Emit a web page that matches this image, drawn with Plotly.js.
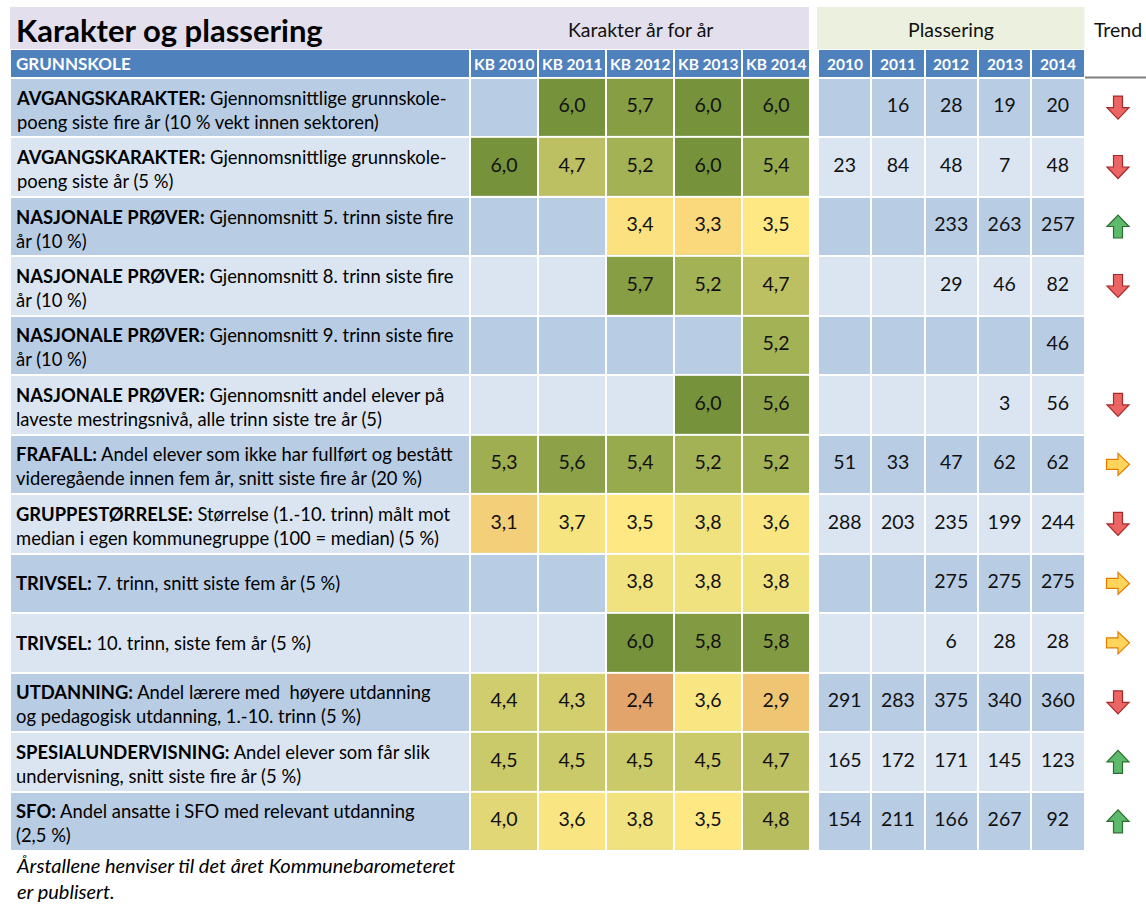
<!DOCTYPE html>
<html>
<head>
<meta charset="utf-8">
<script src="https://cdn.plot.ly/plotly-3.0.1.min.js"></script>
<style>html,body{margin:0;padding:0;background:#fff;}#chart{width:1146px;height:919px;}</style>
</head>
<body>
<div id="chart"></div>
<script>
// ---------------- DATA ----------------
const chartTitle = 'Karakter og plassering';
const sectionGrades = 'Karakter år for år';
const sectionPlaces = 'Plassering';
const sectionTrend = 'Trend';
const groupLabel = 'GRUNNSKOLE';
const gradeYears = ['KB 2010', 'KB 2011', 'KB 2012', 'KB 2013', 'KB 2014'];
const placeYears = ['2010', '2011', '2012', '2013', '2014'];

const labelHeads = ['AVGANGSKARAKTER:', 'AVGANGSKARAKTER:', 'NASJONALE PRØVER:', 'NASJONALE PRØVER:',
  'NASJONALE PRØVER:', 'NASJONALE PRØVER:', 'FRAFALL:', 'GRUPPESTØRRELSE:', 'TRIVSEL:', 'TRIVSEL:',
  'UTDANNING:', 'SPESIALUNDERVISNING:', 'SFO:'];
const labelTexts = [
  ' Gjennomsnittlige grunnskole-<br>poeng siste fire år (10 % vekt innen sektoren)',
  ' Gjennomsnittlige grunnskole-<br>poeng siste år (5 %)',
  ' Gjennomsnitt 5. trinn siste fire<br>år (10 %)',
  ' Gjennomsnitt 8. trinn siste fire<br>år (10 %)',
  ' Gjennomsnitt 9. trinn siste fire<br>år (10 %)',
  ' Gjennomsnitt andel elever på<br>laveste mestringsnivå, alle trinn siste tre år (5)',
  ' Andel elever som ikke har fullført og bestått<br>videregående innen fem år, snitt siste fire år (20 %)',
  ' Størrelse (1.-10. trinn) målt mot<br>median i egen kommunegruppe (100 = median) (5 %)',
  ' 7. trinn, snitt siste fem år (5 %)',
  ' 10. trinn, siste fem år (5 %)',
  ' Andel lærere med  høyere utdanning<br>og pedagogisk utdanning, 1.-10. trinn (5 %)',
  ' Andel elever som får slik<br>undervisning, snitt siste fire år (5 %)',
  ' Andel ansatte i SFO med relevant utdanning<br>(2,5 %)'
];

const grades = [
  [null, 6.0, 5.7, 6.0, 6.0],
  [6.0, 4.7, 5.2, 6.0, 5.4],
  [null, null, 3.4, 3.3, 3.5],
  [null, null, 5.7, 5.2, 4.7],
  [null, null, null, null, 5.2],
  [null, null, null, 6.0, 5.6],
  [5.3, 5.6, 5.4, 5.2, 5.2],
  [3.1, 3.7, 3.5, 3.8, 3.6],
  [null, null, 3.8, 3.8, 3.8],
  [null, null, 6.0, 5.8, 5.8],
  [4.4, 4.3, 2.4, 3.6, 2.9],
  [4.5, 4.5, 4.5, 4.5, 4.7],
  [4.0, 3.6, 3.8, 3.5, 4.8]
];

const placements = [
  [null, 16, 28, 19, 20],
  [23, 84, 48, 7, 48],
  [null, null, 233, 263, 257],
  [null, null, 29, 46, 82],
  [null, null, null, null, 46],
  [null, null, null, 3, 56],
  [51, 33, 47, 62, 62],
  [288, 203, 235, 199, 244],
  [null, null, 275, 275, 275],
  [null, null, 6, 28, 28],
  [291, 283, 375, 340, 360],
  [165, 172, 171, 145, 123],
  [154, 211, 166, 267, 92]
];

const trends = ['down', 'down', 'up', 'down', '', 'down', 'right', 'down', 'right', 'right', 'down', 'up', 'up'];

const footnote = 'Årstallene henviser til det året Kommunebarometeret<br>er publisert.';

// ---------------- LAYOUT GEOMETRY ----------------
const FONT = 'Lato, "Open Sans", sans-serif';
const W = 1146, H = 919;
const labelEdges = [10, 470];
const gradeEdges = [470, 538, 606, 674, 742, 810];
const placeEdges = [818, 871.3, 924.6, 977.9, 1031.2, 1084.5];
const trendX = 1118;
const headerEdges = [49, 77.8];
const rowTop = 77.8, rowPitch = 59.48;
const nRows = labelHeads.length;
const rowEdges = [];
for (let i = 0; i <= nRows; i++) rowEdges.push(rowTop + i * rowPitch);
const rowCenters = rowEdges.slice(0, -1).map((e, i) => (e + rowEdges[i + 1]) / 2);
const mid = arr => arr.slice(0, -1).map((e, i) => (e + arr[i + 1]) / 2);
const gradeCenters = mid(gradeEdges);
const placeCenters = mid(placeEdges);

// background grid (header row + alternating rows), with a transparent gap column
const bgX = [labelEdges[0]].concat(gradeEdges.slice(0)).concat(placeEdges);
const nBgCols = bgX.length - 1;
const gapCol = gradeEdges.length; // index of column 810-818
const bgY = [headerEdges[0]].concat(rowEdges);
const bgZ = [];
for (let r = 0; r <= nRows; r++) {
  const row = [];
  for (let c = 0; c < nBgCols; c++) {
    if (c === gapCol) row.push(null);
    else if (r === 0) row.push(2);
    else row.push((r - 1) % 2 === 0 ? 0 : 1);
  }
  bgZ.push(row);
}

const gradeColorscale = (function () {
  const stops = [
    [2.4, '#E3A46B'], [2.9, '#EFC574'], [3.1, '#F4CF79'], [3.3, '#F9D97B'],
    [3.5, '#FDE884'], [3.6, '#F9E682'], [3.8, '#F0E27E'], [4.0, '#E1D777'],
    [4.5, '#CACA6A'], [4.7, '#BDC062'], [5.2, '#A3B254'], [5.6, '#8DA248'],
    [6.0, '#76933C']
  ];
  return stops.map(s => [(s[0] - 2.4) / 3.6, s[1]]);
})();

const fmtGrade = v => v.toFixed(1).replace('.', ',');

// ---------------- TRACES ----------------
const traces = [];
traces.push({
  type: 'heatmap', x: bgX, y: bgY, z: bgZ, zmin: 0, zmax: 2,
  colorscale: [[0, '#B8CCE4'], [0.5, '#DBE5F1'], [1, '#4F81BD']],
  showscale: false, xgap: 2, ygap: 2, hoverinfo: 'skip'
});
traces.push({
  type: 'heatmap', x: gradeEdges, y: rowEdges, z: grades, zmin: 2.4, zmax: 6.0,
  colorscale: gradeColorscale, showscale: false, xgap: 2, ygap: 2, hoverinfo: 'skip'
});

// value texts
const gx = [], gy = [], gt = [];
grades.forEach((row, r) => row.forEach((v, c) => {
  if (v !== null) { gx.push(gradeCenters[c]); gy.push(rowCenters[r]); gt.push(fmtGrade(v)); }
}));
traces.push({
  type: 'scatter', mode: 'text', x: gx, y: gy, text: gt, hoverinfo: 'skip',
  textfont: { family: FONT, size: 19.5, color: '#111' }, textposition: 'middle center'
});
const px = [], py = [], pt = [];
placements.forEach((row, r) => row.forEach((v, c) => {
  if (v !== null) { px.push(placeCenters[c]); py.push(rowCenters[r]); pt.push(String(v)); }
}));
traces.push({
  type: 'scatter', mode: 'text', x: px, y: py, text: pt, hoverinfo: 'skip',
  textfont: { family: FONT, size: 19.5, color: '#111' }, textposition: 'middle center'
});

// ---------------- ANNOTATIONS ----------------
const annotations = [];
annotations.push({ x: 14, y: 30, xref: 'x', yref: 'y', xanchor: 'left', yanchor: 'middle', showarrow: false,
  text: '<b>' + chartTitle + '</b>', font: { family: FONT, size: 31, color: '#000' } });
annotations.push({ x: (gradeEdges[0] + gradeEdges[gradeEdges.length - 1]) / 2, y: 29, xref: 'x', yref: 'y',
  showarrow: false, text: sectionGrades, font: { family: FONT, size: 19.5, color: '#111' } });
annotations.push({ x: (placeEdges[0] + placeEdges[placeEdges.length - 1]) / 2, y: 29, xref: 'x', yref: 'y',
  showarrow: false, text: sectionPlaces, font: { family: FONT, size: 19.5, color: '#111' } });
annotations.push({ x: trendX, y: 29, xref: 'x', yref: 'y', showarrow: false, text: sectionTrend,
  font: { family: FONT, size: 19.5, color: '#111' } });
const headerMid = (headerEdges[0] + headerEdges[1]) / 2 + 0.5;
annotations.push({ x: 14, y: headerMid, xref: 'x', yref: 'y', xanchor: 'left', showarrow: false,
  text: '<b>' + groupLabel + '</b>', font: { family: FONT, size: 17, color: '#fff' } });
gradeYears.forEach((t, i) => annotations.push({ x: gradeCenters[i], y: headerMid, xref: 'x', yref: 'y',
  showarrow: false, text: '<b>' + t + '</b>', font: { family: FONT, size: 15.5, color: '#fff' } }));
placeYears.forEach((t, i) => annotations.push({ x: placeCenters[i], y: headerMid, xref: 'x', yref: 'y',
  showarrow: false, text: '<b>' + t + '</b>', font: { family: FONT, size: 15.5, color: '#fff' } }));
labelHeads.forEach((h, i) => {
  const two = labelTexts[i].indexOf('<br>') >= 0;
  annotations.push({ x: 14, y: rowCenters[i], xref: 'x', yref: 'y', xanchor: 'left', yanchor: 'middle',
    align: 'left', showarrow: false, yshift: two ? -2 : 0,
    text: '<b>' + h + '</b>' + labelTexts[i], font: { family: FONT, size: 18.4, color: '#000' } });
});
annotations.push({ x: 14, y: rowEdges[nRows] + 27, xref: 'x', yref: 'y', xanchor: 'left', yanchor: 'middle',
  align: 'left', showarrow: false, text: '<i>' + footnote + '</i>',
  font: { family: FONT, size: 20, color: '#000' } });

// ---------------- SHAPES ----------------
const shapes = [];
shapes.push({ type: 'rect', xref: 'x', yref: 'y', x0: 10, x1: 809, y0: 7, y1: 49, fillcolor: '#E4DFEC', line: { width: 0 }, layer: 'below' });
shapes.push({ type: 'rect', xref: 'x', yref: 'y', x0: 817, x1: 1084.5, y0: 7, y1: 49, fillcolor: '#EBF1DE', line: { width: 0 }, layer: 'below' });
shapes.push({ type: 'line', xref: 'x', yref: 'y', x0: 1085, x1: 1146, y0: 77.6, y1: 77.6, line: { color: '#808080', width: 2 } });

const arrowPaths = {
  down: 'M -4.5,11.5 L 4.5,11.5 L 4.5,0 L 11,0 L 0,-11.5 L -11,0 L -4.5,0 Z',
  up: 'M -4.5,-11.5 L 4.5,-11.5 L 4.5,0 L 11,0 L 0,11.5 L -11,0 L -4.5,0 Z',
  right: 'M -11.5,5 L 0,5 L 0,11 L 11.5,0 L 0,-11 L 0,-5 L -11.5,-5 Z'
};
const arrowStyle = {
  down: { fill: '#EC6464', line: '#A52A2A' },
  up: { fill: '#5DB96B', line: '#2B6E2F' },
  right: { fill: '#FFD45A', line: '#E07B00' }
};
trends.forEach((t, i) => {
  if (!t) return;
  shapes.push({ type: 'path', xref: 'x', yref: 'y', xsizemode: 'pixel', ysizemode: 'pixel',
    xanchor: trendX, yanchor: rowCenters[i], path: arrowPaths[t],
    fillcolor: arrowStyle[t].fill, line: { color: arrowStyle[t].line, width: 1.2 } });
});

const layout = {
  width: W, height: H, margin: { l: 0, r: 0, t: 0, b: 0 },
  paper_bgcolor: '#fff', plot_bgcolor: '#fff', showlegend: false,
  xaxis: { range: [0, W], visible: false, fixedrange: true },
  yaxis: { range: [H, 0], visible: false, fixedrange: true },
  annotations: annotations, shapes: shapes,
  font: { family: FONT }
};
Plotly.newPlot('chart', traces, layout, { staticPlot: true, displayModeBar: false });
</script>
</body>
</html>
